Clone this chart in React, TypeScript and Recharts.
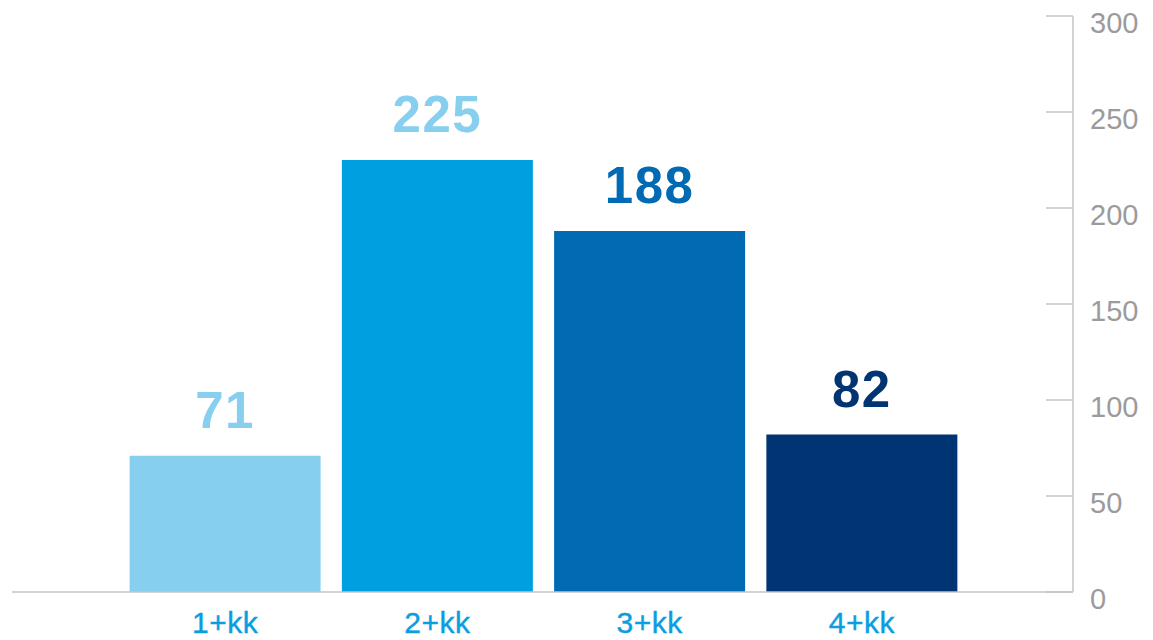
import { BarChart, Bar, XAxis, YAxis, Cell, LabelList } from "recharts";

const categories = ["1+kk", "2+kk", "3+kk", "4+kk"];
const values = [71, 225, 188, 82];
const yTicks = [0, 50, 100, 150, 200, 250, 300];

const barColors = ["#87cfef", "#009fe0", "#006ab3", "#003473"];
const labelColors = ["#87cfef", "#87cfef", "#006ab3", "#003473"];

const data = categories.map((name, i) => ({ name, value: values[i] }));

const FONT = "'Liberation Sans', Arial, sans-serif";
const AXIS_GRAY = "#c4c4c4";

const YTick = (props: any) => {
  const { x, y, payload } = props;
  return (
    <g>
      <line x1={x - 27} y1={y} x2={x} y2={y} stroke={AXIS_GRAY} strokeWidth={1.5} />
      <text x={x + 17} y={y + 17} fill="#9b9b9b" fontSize={29} fontFamily={FONT} textAnchor="start">
        {payload.value}
      </text>
    </g>
  );
};

const XTick = (props: any) => {
  const { x, y, payload } = props;
  return (
    <text
      x={x}
      y={y + 39}
      fill="#0a9ee0"
      fontSize={30}
      fontFamily={FONT}
      textAnchor="middle"
      stroke="#0a9ee0"
      strokeWidth={0.4}
      letterSpacing={0.5}
    >
      {payload.value}
    </text>
  );
};

const ValueLabel = (props: any) => {
  const { x, y, width, value, index } = props;
  return (
    <text
      x={x + width / 2}
      y={y - 28}
      fill={labelColors[index]}
      fontSize={51}
      fontWeight="bold"
      fontFamily={FONT}
      textAnchor="middle"
      letterSpacing={1.5}
    >
      {value}
    </text>
  );
};

export default function App() {
  return (
    <div style={{ position: "absolute", left: 0, top: 0, background: "#fff" }}>
      <BarChart
        width={1153}
        height={640}
        data={data}
        margin={{ top: 16, right: 0, bottom: 0, left: 12 }}
        barCategoryGap="5%"
      >
        <XAxis
          dataKey="name"
          height={48}
          padding={{ left: 107, right: 105 }}
          axisLine={{ stroke: AXIS_GRAY, strokeWidth: 1.5 }}
          tickLine={false}
          tickSize={0}
          tick={<XTick />}
          interval={0}
        />
        <YAxis
          orientation="right"
          width={80}
          domain={[0, 300]}
          ticks={yTicks}
          interval={0}
          axisLine={{ stroke: AXIS_GRAY, strokeWidth: 1.5 }}
          tickLine={false}
          tickSize={0}
          tickMargin={0}
          tick={<YTick />}
        />
        <Bar dataKey="value" isAnimationActive={false}>
          {data.map((d, i) => (
            <Cell key={d.name} fill={barColors[i]} />
          ))}
          <LabelList dataKey="value" content={<ValueLabel />} />
        </Bar>
      </BarChart>
    </div>
  );
}
